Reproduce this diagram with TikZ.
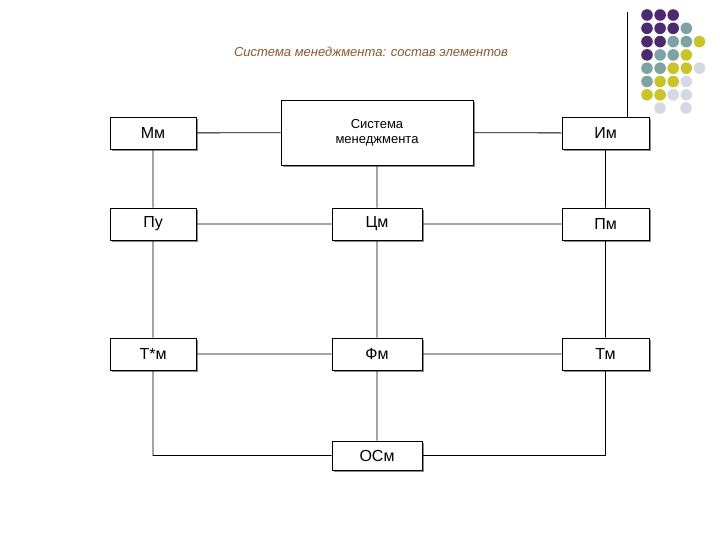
\documentclass[tikz,border=0pt]{standalone}
\usepackage{fontspec}
\setmainfont{Liberation Sans}
\usetikzlibrary{shadows}
\begin{document}
\begin{tikzpicture}[x=1pt,y=-1pt,
 bx/.style={draw=black,fill=white,line width=0.8pt,inner sep=0pt,font=\fontsize{16}{18}\selectfont,
   drop shadow={shadow xshift=2pt,shadow yshift=-2pt,fill=black!45,opacity=1}},
 ln/.style={line width=0.8pt}]
\useasboundingbox (0,0) rectangle (720,540);
\definecolor{pu}{HTML}{4B2A6E}\definecolor{te}{HTML}{7FA3A3}\definecolor{ye}{HTML}{C8C42A}\definecolor{lg}{HTML}{D8D8E4}
\node[font=\itshape\fontsize{13}{15}\selectfont,text=brown!70!black] (t) at (371,52) {Система менеджмента: состав элементов};
\foreach \r/\cs in {0/{pu,pu,pu},1/{pu,pu,pu,te},2/{pu,pu,te,te,ye},3/{pu,te,te,ye},4/{te,te,ye,ye,lg},5/{te,ye,ye,lg},6/{ye,ye,lg,lg}}{
 \foreach \c [count=\i from 0] in \cs { \fill[\c] (647+13.1*\i,15+13.3*\r) circle (5.8); } }
\fill[lg] (660,108) circle (5.8); \fill[lg] (686,108) circle (5.8);
\coordinate (v1) at (627,12);
\node[bx,minimum width=86,minimum height=32] (mm) at (153,133) {Мм};
\node[bx,minimum width=192,minimum height=65,align=center,font=\fontsize{13}{15}\selectfont] (sm) at (377,132.5) {Система\\менеджмента};
\node[bx,minimum width=87,minimum height=32] (im) at (605.5,133) {Им};
\node[bx,minimum width=86,minimum height=32] (pu) at (153,224) {Пу};
\node[bx,minimum width=90,minimum height=32] (cm) at (377,224) {Цм};
\node[bx,minimum width=87,minimum height=32] (pm) at (605.5,224) {Пм};
\node[bx,minimum width=86,minimum height=32] (tm1) at (153,354) {Т*м};
\node[bx,minimum width=90,minimum height=32] (fm) at (377,354) {Фм};
\node[bx,minimum width=87,minimum height=32] (tm) at (605.5,354) {Тм};
\node[bx,minimum width=90,minimum height=29] (os) at (377,455.5) {ОСм};
\draw[ln] (v1) -- (v1 |- im.north);
\draw[ln] (mm) -- (sm) (sm) -- (im) (pu) -- (cm) (cm) -- (pm) (tm1) -- (fm) (fm) -- (tm)
 (mm) -- (pu) (pu) -- (tm1) (sm) -- (cm) (cm) -- (fm) (im) -- (pm) (pm) -- (tm) (fm) -- (os)
 (tm1.south) |- (os.west) (tm.south) |- (os.east);
\end{tikzpicture}
\end{document}
